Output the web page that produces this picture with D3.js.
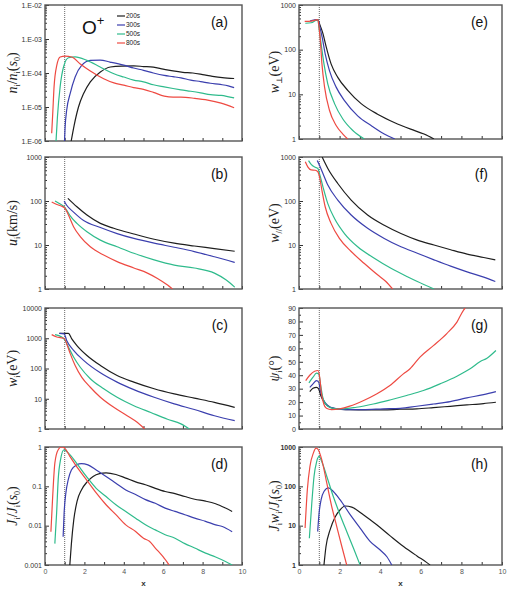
<!DOCTYPE html>
<html lang="en">
<head>
  <meta charset="UTF-8">
  <title>O+ outflow profiles</title>
  <script src="https://d3js.org/d3.v7.min.js"></script>
  <style>
    body { margin: 0; background: #fff; }
    svg { display: block; background: #fff; }
    .tick text { font-family: Arial, "Liberation Sans", sans-serif; font-size: 7px; fill: #333; }
    .ylab { font-family: "Liberation Serif", "DejaVu Serif", serif; font-size: 14px; fill: #222; }
    .plabel { font-family: Arial, "Liberation Sans", sans-serif; font-size: 14px; fill: #111; }
    .legend text { font-family: Arial, "Liberation Sans", sans-serif; font-size: 6.5px; fill: #222; }
    .series { fill: none; stroke-width: 1.2; }
  </style>
</head>
<body>
  <svg width="507" height="591"></svg>
  <script>
    const times = ["200s", "300s", "500s", "800s"];
    const colors = ["#1e1e1e", "#3b3fae", "#2fbb8c", "#ee4a42"];

    // (a) density n_i / n_i(s0)
    const dens200 = [[1.33,1e-6],[1.48,2.9e-6],[1.7,1e-5],[1.96,2.5e-5],[2.3,5.5e-5],[2.81,1.07e-4],[3.32,1.5e-4],[3.9,1.6e-4],[4.5,1.62e-4],[5.0,1.55e-4],[5.5,1.48e-4],[6.0,1.3e-4],[6.5,1.15e-4],[7.0,1.05e-4],[7.5,1.0e-4],[8.0,9e-5],[8.5,8e-5],[9.0,7.3e-5],[9.6,6.9e-5]];
    const dens300 = [[0.99,1e-6],[1.02,2.5e-6],[1.1,8e-6],[1.28,2.5e-5],[1.53,7.6e-5],[1.87,1.7e-4],[2.3,2.35e-4],[2.8,2.4e-4],[3.3,2.1e-4],[4.0,1.7e-4],[4.5,1.4e-4],[5.0,1.2e-4],[5.5,1.0e-4],[6.05,8.5e-5],[6.5,7.8e-5],[6.9,7.2e-5],[7.4,6.2e-5],[7.9,5.6e-5],[8.4,5e-5],[8.9,4.6e-5],[9.3,4.2e-5],[9.6,3.7e-5]];
    const dens500 = [[0.56,1e-6],[0.63,5e-6],[0.77,4e-5],[0.94,1.5e-4],[1.19,2.8e-4],[1.53,3.0e-4],[2.13,2.35e-4],[2.8,1.5e-4],[3.5,9.5e-5],[4.0,7.6e-5],[4.5,6.2e-5],[5.0,5.5e-5],[5.5,4.5e-5],[6.05,3.9e-5],[6.5,3.5e-5],[6.9,3.2e-5],[7.4,2.9e-5],[7.9,2.6e-5],[8.4,2.3e-5],[8.94,2.2e-5],[9.6,1.85e-5]];
    const dens800 = [[0.34,1.7e-6],[0.39,6e-6],[0.46,3.9e-5],[0.6,1.7e-4],[0.77,2.95e-4],[1.02,3.15e-4],[1.36,2.95e-4],[1.79,1.85e-4],[2.3,1.15e-4],[2.98,6.8e-5],[3.5,5.1e-5],[4.0,4.4e-5],[4.5,3.7e-5],[5.0,3.3e-5],[5.5,2.7e-5],[6.05,2.1e-5],[6.5,1.95e-5],[6.9,1.95e-5],[7.6,1.8e-5],[8.26,1.6e-5],[8.94,1.3e-5],[9.6,9.5e-6]];

    // (b) velocity u_i (km/s)
    const vel200 = [[1.16,115],[1.62,74],[2.13,48],[2.81,31],[3.49,24],[4.51,17.8],[5.54,13.5],[6.56,11],[7.58,9.5],[8.6,8.3],[9.63,7.2]];
    const vel300 = [[0.97,100],[1.1,80],[1.45,56],[1.96,36],[2.81,25],[3.66,18.2],[4.51,14.1],[5.54,11],[6.56,8.9],[7.58,7.1],[8.6,5.4],[9.63,4.0]];
    const vel500 = [[0.51,100],[0.77,85],[0.97,74],[1.1,62],[1.28,46],[1.62,31],[2.13,20],[2.81,12.9],[3.66,9.1],[4.51,6.5],[5.54,4.6],[6.56,3.5],[7.58,3.0],[8.6,2.3],[9.2,1.6],[9.63,1.1]];
    const vel800 = [[0.34,95],[0.6,83],[0.85,76],[1.02,68],[1.19,48],[1.45,26],[1.79,15.5],[2.3,9.1],[2.98,5.9],[3.66,4.2],[4.51,3.0],[5.2,2.3],[5.71,1.74],[6.22,1.23],[6.47,1.0]];

    // (c) energy w_i (eV)
    const en200 = [[0.73,1450],[1.19,1450],[1.36,955],[1.62,575],[2.13,270],[2.81,126],[3.66,59],[4.51,35.5],[5.54,21.4],[6.56,14.5],[7.58,10.5],[8.6,7.6],[9.63,5.2]];
    const en300 = [[0.73,1450],[0.97,1400],[1.1,850],[1.45,400],[1.96,186],[2.81,72],[3.66,35.5],[4.51,20],[5.54,11.2],[6.56,6.8],[7.58,4.4],[8.6,2.75],[9.63,1.9]];
    const en500 = [[0.51,1320],[0.85,1100],[1.02,850],[1.19,510],[1.45,240],[1.79,110],[2.3,46],[2.98,21.4],[3.66,11.2],[4.51,5.9],[5.37,3.5],[6.22,2.1],[6.9,1.48],[7.33,1.0]];
    const en800 = [[0.34,1320],[0.6,1100],[0.77,1050],[0.97,1000],[1.1,660],[1.28,310],[1.53,126],[1.87,51],[2.3,24],[2.81,11.2],[3.49,5.2],[4.17,2.75],[4.68,1.66],[5.06,1.0]];

    // (d) flux J_i / J_i(s0)
    const flux200 = [[1.26,0.001],[1.34,0.0035],[1.46,0.014],[1.63,0.042],[1.85,0.081],[2.14,0.13],[2.44,0.178],[2.77,0.21],[3.1,0.22],[3.6,0.2],[4.1,0.162],[4.6,0.13],[5.1,0.11],[5.6,0.089],[6.1,0.074],[6.6,0.065],[7.1,0.055],[7.6,0.047],[8.15,0.042],[8.66,0.036],[9.16,0.028],[9.5,0.023]];
    const flux300 = [[0.92,0.0052],[0.97,0.021],[1.06,0.068],[1.18,0.148],[1.34,0.26],[1.6,0.35],[1.85,0.38],[2.18,0.35],[2.6,0.26],[3.1,0.178],[3.6,0.12],[4.1,0.081],[4.6,0.062],[5.1,0.046],[5.6,0.037],[6.1,0.028],[6.6,0.023],[7.1,0.019],[7.6,0.0155],[8.15,0.0129],[8.66,0.0105],[9.0,0.0095],[9.5,0.007]];
    const flux500 = [[0.5,0.0035],[0.59,0.021],[0.67,0.148],[0.79,0.48],[0.96,0.85],[1.18,0.71],[1.6,0.39],[2.1,0.178],[2.6,0.089],[3.1,0.055],[3.6,0.034],[4.1,0.023],[4.6,0.0155],[5.1,0.0105],[5.6,0.0078],[6.1,0.0059],[6.6,0.0048],[7.1,0.0035],[7.6,0.0027],[8.15,0.002],[8.66,0.0016],[9.16,0.00123],[9.5,0.001]];
    const flux800 = [[0.3,0.007],[0.39,0.055],[0.5,0.39],[0.67,0.85],[0.84,1.0],[1.0,0.93],[1.26,0.58],[1.6,0.32],[2.1,0.148],[2.6,0.068],[3.1,0.034],[3.6,0.019],[4.1,0.0105],[4.6,0.0071],[5.0,0.0048],[5.3,0.004],[5.6,0.0027],[6.0,0.0016],[6.3,0.001]];

    // (e) perpendicular energy w_perp (eV)
    const perp200 = [[0.75,450],[0.93,470],[1.01,380],[1.18,229],[1.34,115],[1.58,48],[1.91,24],[2.4,12.3],[3.06,6.2],[3.87,3.6],[4.69,2.35],[5.5,1.66],[6.16,1.29],[6.65,1.0]];
    const perp300 = [[0.55,440],[0.93,470],[1.01,347],[1.14,190],[1.29,81],[1.5,34],[1.83,14.5],[2.24,7.2],[2.89,3.3],[3.55,2.0],[4.2,1.29],[4.72,1.0]];
    const perp500 = [[0.31,390],[0.6,400],[0.93,470],[0.98,316],[1.09,135],[1.23,48],[1.42,17],[1.75,6.2],[2.16,2.8],[2.65,1.55],[3.22,1.0]];
    const perp800 = [[0.28,430],[0.6,435],[0.93,470],[0.98,350],[1.05,160],[1.13,48],[1.26,14.5],[1.5,4.4],[1.83,2.0],[2.16,1.29],[2.4,1.0]];

    // (f) parallel energy w_par (eV)
    const par200 = [[1.14,1000],[1.42,550],[1.91,250],[2.57,105],[3.38,48],[4.2,28],[5.02,18.2],[5.83,12.9],[6.65,10],[7.47,7.8],[8.28,6.2],[9.1,5.2],[9.67,4.6]];
    const par300 = [[0.9,830],[1.01,650],[1.18,420],[1.42,230],[1.91,105],[2.57,48],[3.38,24],[4.2,14.1],[5.02,9.1],[5.83,6.5],[6.65,4.6],[7.47,3.3],[8.28,2.45],[9.1,1.86],[9.67,1.48]];
    const par500 = [[0.47,830],[0.6,680],[0.77,590],[0.93,550],[1.01,420],[1.18,210],[1.42,87],[1.75,40],[2.24,18.2],[2.89,9.1],[3.71,5.0],[4.53,2.95],[5.34,1.9],[5.83,1.48],[6.65,1.0]];
    const par800 = [[0.31,780],[0.44,590],[0.6,510],[0.8,500],[0.93,460],[1.01,355],[1.13,175],[1.29,74],[1.58,31],[1.99,14.1],[2.57,7.1],[3.22,3.8],[3.87,2.1],[4.28,1.48],[4.61,1.0]];

    // (g) pitch angle psi_i (deg)
    const ang200 = [[0.53,27.8],[0.69,30.3],[0.86,31],[0.97,29.8],[1.07,24.9],[1.27,19.4],[1.52,16.2],[1.85,15],[2.5,14.4],[3.33,14.2],[4.15,14.2],[4.98,14.7],[5.8,15],[6.62,15.9],[7.45,16.9],[8.27,17.9],[9.09,18.9],[9.7,19.9]];
    const ang300 = [[0.53,31],[0.69,33.6],[0.86,36],[0.97,34.8],[1.07,27.3],[1.22,21.1],[1.43,17.4],[1.76,15.4],[2.34,14.4],[3.16,14.4],[4.15,15],[4.98,15.4],[5.8,16.9],[6.62,18.6],[7.45,20.4],[8.27,23.1],[9.09,25.6],[9.7,27.8]];
    const ang500 = [[0.49,34.3],[0.69,38.5],[0.86,41.5],[0.97,41],[1.07,32.3],[1.19,22.4],[1.38,17.4],[1.68,15.4],[2.17,15],[2.83,16.2],[3.66,18.6],[4.48,21.6],[5.3,24.9],[6.13,28.6],[6.95,33.6],[7.78,39.3],[8.43,44.8],[8.93,50.2],[9.26,52.7],[9.7,58.4]];
    const ang800 = [[0.33,36],[0.53,40],[0.77,43],[0.94,43.5],[1.02,38.5],[1.1,27],[1.22,18.6],[1.35,15.4],[1.6,14.4],[2.0,15],[2.5,17],[3.16,21],[3.82,26],[4.48,32.3],[5.14,41],[5.47,44.8],[5.96,53.5],[6.62,62],[7.28,71],[7.78,79.5],[8.1,88.3],[8.19,90]];

    // (h) energy flux J_i w_i / J_i(s0)
    const eflux200 = [[1.23,1.0],[1.33,2.95],[1.53,7.8],[1.78,16.6],[2.02,25],[2.27,31.6],[2.6,29.5],[3.17,19],[3.83,10.5],[4.49,5.5],[5.15,2.95],[5.81,1.7],[6.3,1.15],[6.46,1.0]];
    const eflux300 = [[0.92,7.1],[0.99,21],[1.09,46],[1.23,74],[1.45,91],[1.69,74],[2.02,46],[2.52,19],[3.01,8.7],[3.5,4.0],[4.0,2.4],[4.33,1.62],[4.57,1.0]];
    const eflux500 = [[0.51,4.8],[0.63,37],[0.74,178],[0.87,427],[0.99,575],[1.12,427],[1.37,178],[1.69,55],[2.02,19],[2.35,7.1],[2.68,2.7],[3.01,1.0]];
    const eflux800 = [[0.3,8.7],[0.41,81],[0.54,324],[0.71,708],[0.84,933],[0.95,851],[1.12,479],[1.37,120],[1.61,31],[1.86,9.5],[2.11,2.95],[2.35,1.0]];

    const svg = d3.select("svg");
    const colL = [45, 242], colR = [299, 502];
    const rows = [[5, 141], [157, 289], [308, 429], [447, 565]];

    const expFmt = d => "1.E-0" + Math.round(-Math.log10(d));
    const plainFmt = d => String(d);

    const panels = [
      { tag: "(a)", col: colL, row: rows[0], log: true, domain: [1e-6, 1e-2], fmt: expFmt,
        series: [dens200, dens300, dens500, dens800],
        label: [["n","i"],["i","s"],["/","n"],["n","i"],["i","s"],["(","n"],["s","i"],["0","s"],[")","n"]] },
      { tag: "(b)", col: colL, row: rows[1], log: true, domain: [1, 1000], fmt: plainFmt,
        series: [vel200, vel300, vel500, vel800],
        label: [["u","i"],["i","s"],["(km/s)","n"]] },
      { tag: "(c)", col: colL, row: rows[2], log: true, domain: [1, 10000], fmt: plainFmt,
        series: [en200, en300, en500, en800],
        label: [["w","i"],["i","s"],["(eV)","n"]] },
      { tag: "(d)", col: colL, row: rows[3], log: true, domain: [0.001, 1], fmt: plainFmt, xlab: true,
        series: [flux200, flux300, flux500, flux800],
        label: [["J","i"],["i","s"],["/","n"],["J","i"],["i","s"],["(","n"],["s","i"],["0","s"],[")","n"]] },
      { tag: "(e)", col: colR, row: [5, 139], log: true, domain: [1, 1000], fmt: plainFmt,
        series: [perp200, perp300, perp500, perp800],
        label: [["w","i"],["\u22a5","s"],["(eV)","n"]] },
      { tag: "(f)", col: colR, row: rows[1], log: true, domain: [1, 1000], fmt: plainFmt,
        series: [par200, par300, par500, par800],
        label: [["w","i"],["//","s"],["(eV)","n"]] },
      { tag: "(g)", col: colR, row: rows[2], log: false, domain: [0, 90], fmt: plainFmt,
        series: [ang200, ang300, ang500, ang800],
        label: [["\u03c8","i"],["i","s"],["(\u00b0)","n"]] },
      { tag: "(h)", col: colR, row: rows[3], log: true, domain: [1, 1000], fmt: plainFmt, xlab: true, bold: true,
        series: [eflux200, eflux300, eflux500, eflux800],
        label: [["J","i"],["i","s"],["w","i"],["i","s"],["/","n"],["J","i"],["i","s"],["(","n"],["s","i"],["0","s"],[")","n"]] }
    ];

    panels.forEach((p, pi) => {
      const x = d3.scaleLinear().domain([0, 10]).range(p.col);
      const y = (p.log ? d3.scaleLog() : d3.scaleLinear()).domain(p.domain).range([p.row[1], p.row[0]]);
      const g = svg.append("g");

      const clipId = "clip" + pi;
      svg.append("clipPath").attr("id", clipId).append("rect")
        .attr("x", p.col[0]).attr("y", p.row[0])
        .attr("width", p.col[1] - p.col[0]).attr("height", p.row[1] - p.row[0]);

      // major/minor y ticks
      let major, minor;
      if (p.log) {
        const lo = Math.round(Math.log10(p.domain[0])), hi = Math.round(Math.log10(p.domain[1]));
        major = d3.range(lo, hi + 1).map(e => Math.pow(10, e));
        minor = [];
        for (let e = lo; e < hi; e++) for (let m = 2; m <= 9; m++) minor.push(m * Math.pow(10, e));
      } else {
        major = d3.range(0, 91, 10);
        minor = d3.range(5, 90, 10);
      }

      const yAxis = g.append("g").attr("transform", `translate(${p.col[0]},0)`)
        .call(d3.axisLeft(y).tickValues(major).tickSize(-4).tickPadding(3).tickFormat(p.fmt));
      yAxis.select(".domain").remove();
      if (p.bold) yAxis.selectAll("text").style("font-weight", "bold");
      g.append("g").attr("transform", `translate(${p.col[0]},0)`)
        .call(d3.axisLeft(y).tickValues(minor).tickSize(-2).tickFormat(""))
        .select(".domain").remove();

      const xAxis = g.append("g").attr("transform", `translate(0,${p.row[1]})`)
        .call(d3.axisBottom(x).tickValues(d3.range(0, 11)).tickSize(-3).tickPadding(4)
          .tickFormat(d => (p.xlab && d % 2 === 0) ? d : ""));
      xAxis.select(".domain").remove();
      xAxis.selectAll("text").style("fill", "#555");
      g.selectAll(".tick line").attr("stroke", "#333");

      // frame
      g.append("rect")
        .attr("x", p.col[0]).attr("y", p.row[0])
        .attr("width", p.col[1] - p.col[0]).attr("height", p.row[1] - p.row[0])
        .attr("fill", "none").attr("stroke", "#555").attr("stroke-width", 1.4);

      // dotted marker at x = 1
      g.append("line")
        .attr("x1", x(1)).attr("x2", x(1)).attr("y1", p.row[0]).attr("y2", p.row[1])
        .attr("stroke", "#555").attr("stroke-width", 0.9).attr("stroke-dasharray", "1,1");

      const line = d3.line().x(d => x(d[0])).y(d => y(d[1])).curve(d3.curveMonotoneX);
      g.append("g").attr("clip-path", `url(#${clipId})`)
        .selectAll("path").data(p.series).join("path")
        .attr("class", "series")
        .attr("stroke", (d, i) => colors[i])
        .attr("d", line);

      // panel tag
      g.append("text").attr("class", "plabel")
        .attr("x", p.col[1] - 14).attr("y", p.row[0] + 22)
        .attr("text-anchor", "end").text(p.tag);

      // y label with sub-scripts
      const lx = p.col === colL ? 17 : 279;
      const cy = (p.row[0] + p.row[1]) / 2;
      const t = g.append("text").attr("class", "ylab")
        .attr("transform", `translate(${lx},${cy}) rotate(-90)`)
        .attr("text-anchor", "middle");
      let shifted = false;
      p.label.forEach(([s, kind]) => {
        const ts = t.append("tspan").text(s);
        if (kind === "i") ts.style("font-style", "italic");
        if (kind === "s") {
          ts.attr("font-size", "8px").attr("dy", 3);
          shifted = true;
        } else if (shifted) {
          ts.attr("dy", -3);
          shifted = false;
        }
      });

      if (p.xlab) {
        g.append("text")
          .attr("x", (p.col[0] + p.col[1]) / 2).attr("y", 586)
          .attr("text-anchor", "middle")
          .style("font-family", "Arial, sans-serif").style("font-size", "8px").style("font-weight", "bold")
          .style("fill", "#333").text("x");
      }
    });

    // O+ marker and legend in panel (a)
    const o = svg.append("text").attr("x", 82).attr("y", 34)
      .style("font-family", "Arial, sans-serif").style("font-size", "19px").style("fill", "#111");
    o.append("tspan").text("O");
    o.append("tspan").text("+").attr("font-size", "13px").attr("dy", -9);

    const legend = svg.append("g").attr("class", "legend");
    times.forEach((tm, i) => {
      const ly = 16 + i * 9;
      legend.append("line").attr("x1", 117).attr("x2", 125).attr("y1", ly).attr("y2", ly)
        .attr("stroke", colors[i]).attr("stroke-width", 1.2);
      legend.append("text").attr("x", 126).attr("y", ly + 2.3).text(tm);
    });
  </script>
</body>
</html>
